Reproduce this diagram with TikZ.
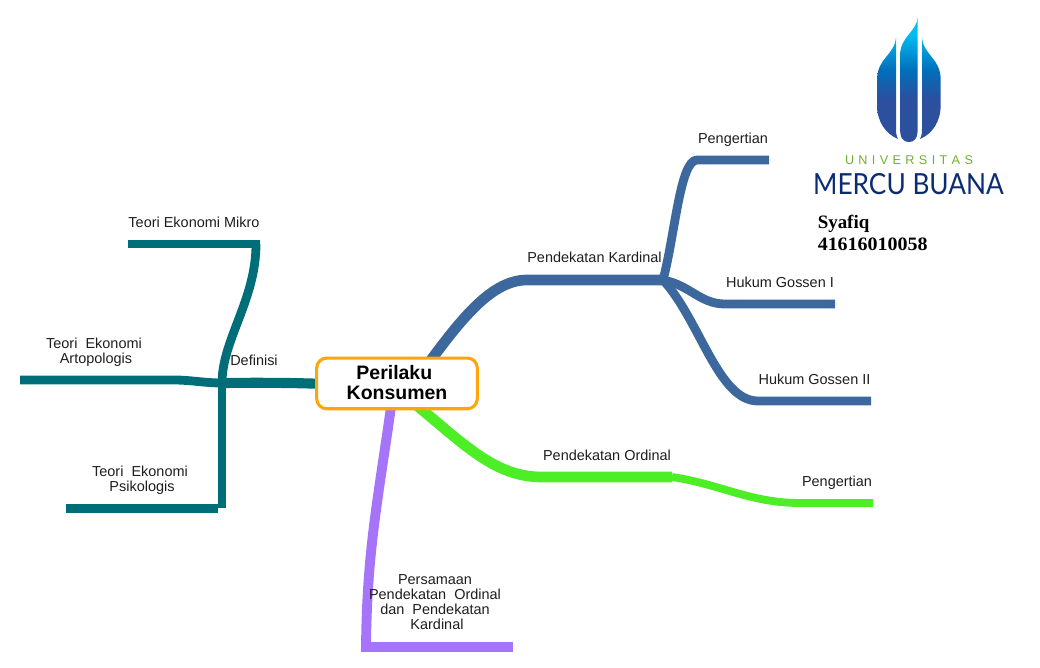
\documentclass[tikz,border=0pt]{standalone}
\usepackage{fontspec}
\setmainfont{Liberation Sans}
\newfontfamily\serifbold{Liberation Serif}
\newfontfamily\logofont{Lato}
\definecolor{logoA}{HTML}{00BDF2}
\definecolor{logoB}{HTML}{0070BC}
\definecolor{logoC}{HTML}{2C4F9E}
\pgfdeclareverticalshading{logoshade}{100bp}{
  color(0bp)=(logoC); color(25bp)=(logoC); color(42bp)=(logoC); color(54bp)=(logoB); color(68bp)=(logoA); color(75bp)=(logoA); color(100bp)=(logoA)}
\definecolor{kteal}{HTML}{006E78}
\definecolor{kblue}{HTML}{3C689E}
\definecolor{kgreen}{HTML}{4DEE26}
\definecolor{kpurple}{HTML}{A674F8}
\definecolor{korange}{HTML}{FFA50A}
\definecolor{navy}{HTML}{0B2C72}
\definecolor{logogreen}{HTML}{6FB02C}
\definecolor{labelc}{HTML}{1E1E1E}
\tikzset{
  lbl/.style={font=\fontsize{10.85}{11.25}\selectfont, text=labelc, align=center, inner sep=0pt},
  branch/.style={line width=#1, line cap=butt, line join=miter},
  branch/.default=6.6pt,
  rootbox/.style={draw=korange, line width=2.3pt, fill=white, rounded corners=7.5pt, minimum width=120.5pt, minimum height=38pt, inner sep=0pt, align=center, font=\fontsize{14.6}{15}\selectfont\bfseries},
}
\begin{document}
\begin{tikzpicture}[x=0.75pt,y=-0.75pt]
\useasboundingbox (0,0) rectangle (1040,668);
% junctions and free ends
\coordinate (hub) at (222,383);
\coordinate (mikroCorner) at (256,244);
\coordinate (mikroEnd) at (128,244);
\coordinate (mikroTip) at (260,244);
\coordinate (artoEnd) at (20,380);
\coordinate (artoBend) at (175,380);
\coordinate (psiCorner) at (222,508.3);
\coordinate (psiEnd) at (66,508.3);
\coordinate (psiJoin) at (218,508.3);
\coordinate (karA) at (428,364);
\coordinate (karB) at (527,280);
\coordinate (kar) at (663,280);
\coordinate (pengA) at (697,160);
\coordinate (pengB) at (769,160);
\coordinate (gosA) at (725,304);
\coordinate (gosB) at (835,304);
\coordinate (gosC) at (758,401);
\coordinate (gosD) at (871,401);
\coordinate (ordA) at (415,404);
\coordinate (ordB) at (542,477);
\coordinate (ord) at (672,477);
\coordinate (ordC) at (800,503);
\coordinate (ordD) at (873,503);
\coordinate (purA) at (392,400);
\coordinate (purB) at (366,647);
\coordinate (purC) at (513,647);
\coordinate (purD) at (361,647);
% teal
\draw[kteal,branch=7.6pt] (325,384) .. controls (300,383) and (270,382.5) .. (hub);
\draw[kteal,branch] (mikroEnd) -- (mikroTip);
\draw[kteal,branch] (mikroCorner) .. controls (256,300) and (222,340) .. (hub);
\draw[kteal,branch] (artoEnd) -- (artoBend) .. controls (190,380) and (205,383) .. (hub);
\draw[kteal,branch] (hub) -- (psiCorner);
\draw[kteal,branch] (psiEnd) -- (psiJoin);
% blue
\draw[kblue,branch=8pt] (karA) .. controls (462,318) and (492,280) .. (karB) -- (kar);
\draw[kblue,branch] (kar) .. controls (675,235) and (680,160) .. (pengA) -- (pengB);
\draw[kblue,branch] (kar) .. controls (690,285) and (700,304) .. (gosA) -- (gosB);
\draw[kblue,branch] (kar) .. controls (700,320) and (718,401) .. (gosC) -- (gosD);
% green
\draw[kgreen,branch=8pt] (ordA) .. controls (465,445) and (495,477) .. (ordB) -- (ord);
\draw[kgreen,branch=5.9pt] (ord) .. controls (720,484) and (750,503) .. (ordC) -- (ordD);
% purple
\draw[kpurple,branch=7.4pt] (purA) .. controls (378,500) and (367,550) .. (purB);
\draw[kpurple,branch=7.8pt] (purD) -- (purC);
% central node
\node[rootbox] (root) at (397,383.4) {Perilaku\hspace*{4pt}\\Konsumen\rule[-1.8pt]{0pt}{0pt}};
% labels
\node[lbl] (lmikro) at (194,222) {Teori Ekonomi Mikro};
\node[lbl] (larto) at (94,352) {Teori\ \ Ekonomi\\\hspace*{3pt}Artopologis};
\node[lbl] (lpsi) at (140,480) {Teori\ \ Ekonomi\\\hspace*{3pt}Psikologis};
\node[lbl] (ldef) at (254,360) {Definisi};
\node[lbl] (lkar) at (594.5,257) {Pendekatan Kardinal};
\node[lbl] (lpeng) at (733,139.5) {Pengertian};
\node[lbl] (lgos) at (780,282) {Hukum Gossen I};
\node[lbl] (lgosb) at (814.5,379) {Hukum Gossen II};
\node[lbl] (lord) at (607,455) {Pendekatan Ordinal};
\node[lbl] (lpengb) at (837,482.5) {Pengertian};
\node[lbl] (lpers) at (435,602.5) {Persamaan\\Pendekatan\ \ Ordinal\\dan\ \ Pendekatan\\\hspace*{3pt}Kardinal};
% logo
\shade[shading=logoshade]
  (917.7,17) .. controls (917,32) and (900,36) .. (900,56) -- (900,128)
    .. controls (900,138) and (903,142) .. (909,142) .. controls (915,142) and (917.7,138) .. (917.7,128) -- cycle
  (896,37) .. controls (895,55) and (877,58) .. (877,80) -- (877,105)
    .. controls (877,122) and (886,134) .. (898,139) .. controls (896,135) and (896,132) .. (896,128) -- cycle
  (922,37) .. controls (923,55) and (940.7,58) .. (940.7,80) -- (940.7,105)
    .. controls (940.7,122) and (932,134) .. (920,139) .. controls (922,135) and (922,132) .. (922,128) -- cycle;
\node[inner sep=0pt, text=logogreen, font=\fontsize{9.5}{9.5}\selectfont] (univ) at (909,160)
  {\makebox[96pt][s]{U\hfill N\hfill I\hfill V\hfill E\hfill R\hfill S\hfill I\hfill T\hfill A\hfill S}};
\node[inner sep=0pt, text=navy] (mercu) at (908.5,184)
  {\resizebox{143pt}{15.8pt}{\logofont MERCU BUANA}};
\node[inner sep=0pt, anchor=west, align=left, font=\fontsize{14.2}{16}\selectfont\serifbold\bfseries] (who) at (817.5,233)
  {Syafiq\\\scalebox{1.055}[1]{41616010058}};
\end{tikzpicture}
\end{document}
